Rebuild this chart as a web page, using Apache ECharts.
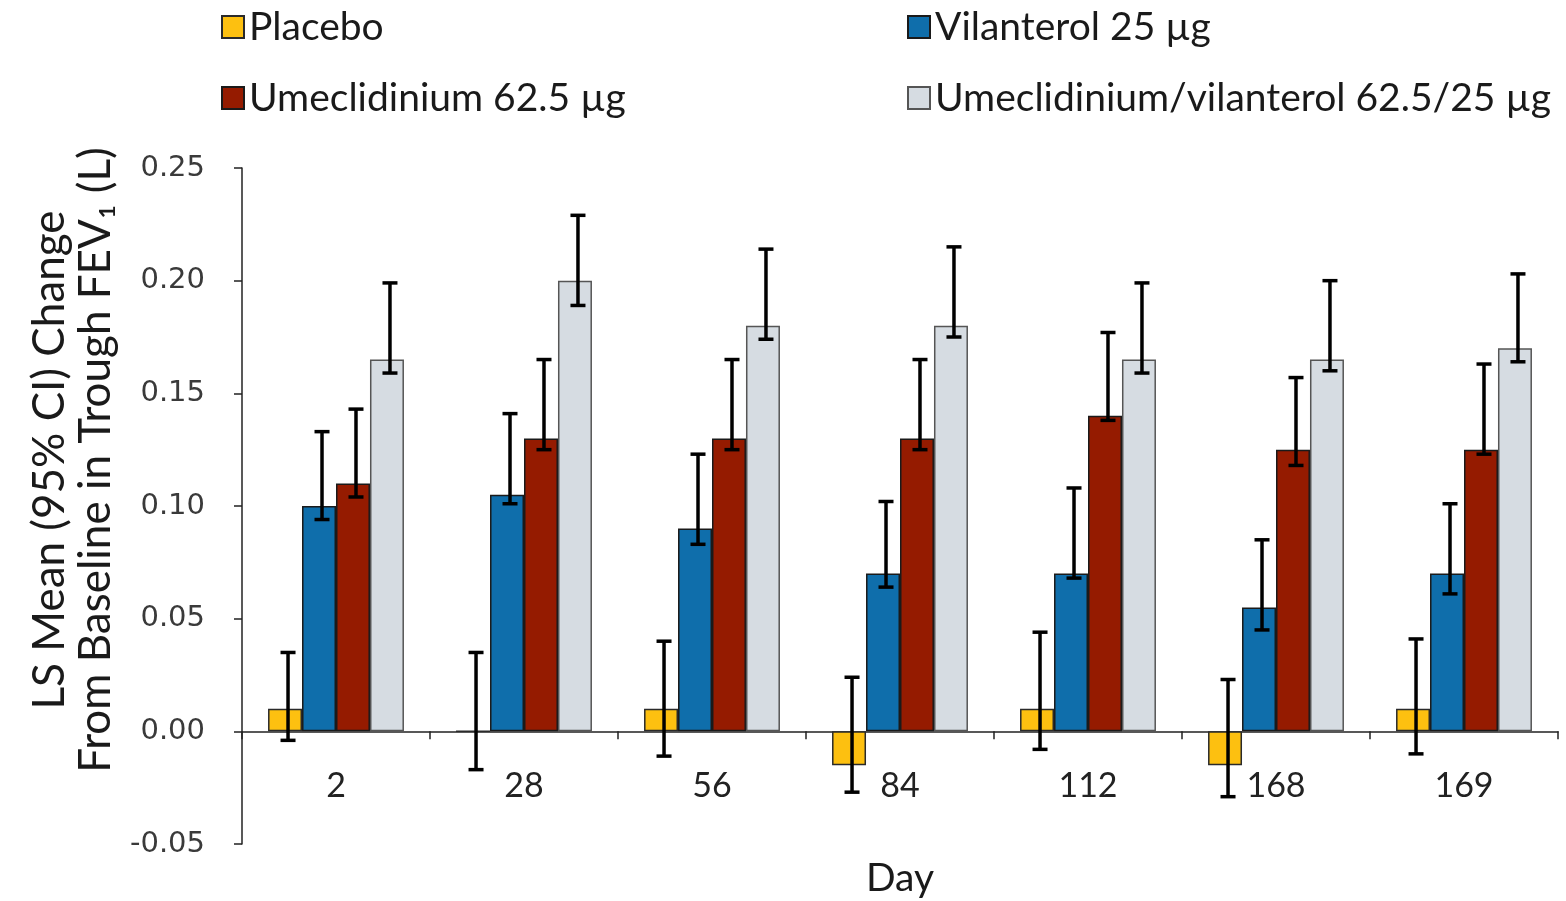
<!DOCTYPE html>
<html>
<head>
<meta charset="utf-8">
<script src="https://cdn.jsdelivr.net/npm/echarts@6/dist/echarts.min.js"></script>
<style>html,body{margin:0;padding:0;background:#fff;}#c{width:1566px;height:901px;}</style>
</head>
<body>
<div id="c"></div>
<script>
const days = ['2', '28', '56', '84', '112', '168', '169'];
const yTicks = [-0.05, 0.00, 0.05, 0.10, 0.15, 0.20, 0.25];

const placebo   = [0.010, 0.000, 0.010, -0.015, 0.010, -0.015, 0.010];
const placeboLo = [-0.004, -0.017, -0.011, -0.027, -0.008, -0.029, -0.010];
const placeboHi = [0.035, 0.035, 0.040, 0.024, 0.044, 0.023, 0.041];

const vil   = [0.100, 0.105, 0.090, 0.070, 0.070, 0.055, 0.070];
const vilLo = [0.094, 0.101, 0.083, 0.064, 0.068, 0.045, 0.061];
const vilHi = [0.133, 0.141, 0.123, 0.102, 0.108, 0.085, 0.101];

const umec   = [0.110, 0.130, 0.130, 0.130, 0.140, 0.125, 0.125];
const umecLo = [0.104, 0.125, 0.125, 0.125, 0.138, 0.118, 0.123];
const umecHi = [0.143, 0.165, 0.165, 0.165, 0.177, 0.157, 0.163];

const combo   = [0.165, 0.200, 0.180, 0.180, 0.165, 0.165, 0.170];
const comboLo = [0.159, 0.189, 0.174, 0.175, 0.159, 0.160, 0.164];
const comboHi = [0.199, 0.229, 0.214, 0.215, 0.199, 0.200, 0.203];

const names = ['Placebo', 'Vilanterol 25 µg', 'Umeclidinium 62.5 µg', 'Umeclidinium/vilanterol 62.5/25 µg'];
const colors = ['#FDC010', '#0F6EAB', '#951B00', '#D6DCE2'];
const borders = ['#2a2a2a', '#1a1a1a', '#1a1a1a', '#555555'];
const means = [placebo, vil, umec, combo];
const los = [placeboLo, vilLo, umecLo, comboLo];
const his = [placeboHi, vilHi, umecHi, comboHi];

const GAP = 0.277;
const FONT = 'Lato';
const Y_MIN = -0.05, Y_MAX = 0.25;
const GRID = { left: 242, right: 8, top: 168, bottom: 57 };
const PLOT_H = 901 - GRID.top - GRID.bottom;
// shift the category axis up so it sits on the zero line (labels follow it)
const zeroOffset = -PLOT_H * (0 - Y_MIN) / (Y_MAX - Y_MIN);

function errSeries(k) {
  return {
    type: 'custom',
    name: names[k] + ' CI',
    z: 10,
    silent: true,
    data: days.map((d, i) => [i, los[k][i], his[k][i]]),
    renderItem: function (params, api) {
      const idx = api.value(0);
      const base = api.coord([idx, 0]);
      const bandW = api.size([1, 0])[0];
      const barW = bandW * (1 - GAP) / 4;
      const cx = base[0] + (k - 1.5) * barW + 3;
      const yLo = api.coord([idx, api.value(1)])[1];
      const yHi = api.coord([idx, api.value(2)])[1];
      const cap = 7.5;
      const st = { stroke: '#000', lineWidth: 3.5 };
      return {
        type: 'group',
        children: [
          { type: 'line', shape: { x1: cx, y1: yLo, x2: cx, y2: yHi }, style: st },
          { type: 'line', shape: { x1: cx - cap, y1: yHi, x2: cx + cap, y2: yHi }, style: st },
          { type: 'line', shape: { x1: cx - cap, y1: yLo, x2: cx + cap, y2: yLo }, style: st }
        ]
      };
    }
  };
}

const barSeries = names.map((n, k) => ({
  type: 'bar',
  name: n,
  data: means[k],
  barGap: 0,
  barCategoryGap: (GAP * 100) + '%',
  itemStyle: { color: colors[k], borderColor: borders[k], borderWidth: 1.5 }
}));

const legendText = { fontFamily: FONT, fontSize: 39, color: '#1a1a1a', lineHeight: 44 };
const chart = echarts.init(document.getElementById('c'), null, { renderer: 'canvas' });
chart.setOption({
  animation: false,
  backgroundColor: '#fff',
  textStyle: { fontFamily: FONT },
  legend: [
    {
      data: [names[0], names[2]],
      orient: 'vertical',
      left: 216, top: 0,
      itemWidth: 22, itemHeight: 22, itemGap: 27, itemTextGap: 9,
      icon: 'rect',
      textStyle: legendText
    },
    {
      data: [names[1], names[3]],
      orient: 'vertical',
      left: 902, top: 0,
      itemWidth: 22, itemHeight: 22, itemGap: 27, itemTextGap: 7,
      icon: 'rect',
      textStyle: legendText
    }
  ],
  grid: Object.assign({ containLabel: false, outerBoundsMode: 'none' }, GRID),
  xAxis: {
    type: 'category',
    data: days,
    position: 'bottom',
    offset: zeroOffset,
    name: 'Day',
    nameLocation: 'middle',
    nameGap: 128,
    nameTextStyle: { fontFamily: FONT, fontSize: 39, color: '#1a1a1a' },
    axisLine: { onZero: false, lineStyle: { color: '#222', width: 1.5 } },
    axisTick: { show: true, length: 8, lineStyle: { color: '#222', width: 1.5 } },
    axisLabel: { margin: 38, fontFamily: FONT, fontSize: 34, color: '#222' }
  },
  yAxis: {
    type: 'value',
    min: Y_MIN, max: Y_MAX, interval: 0.05,
    name: 'LS Mean (95% CI) Change\nFrom Baseline in Trough FEV₁ (L)',
    nameLocation: 'middle',
    nameRotate: 90,
    nameGap: 121,
    nameTextStyle: { fontFamily: FONT, fontSize: 44, color: '#1a1a1a', lineHeight: 46, padding: [0, 0, 0, 92] },
    axisLine: { show: true, lineStyle: { color: '#222', width: 1.5 } },
    axisTick: { show: true, length: 8, lineStyle: { color: '#222', width: 1.5 } },
    splitLine: { show: false },
    axisLabel: {
      margin: 37, fontFamily: 'DejaVu Sans', fontSize: 29, color: '#3a3a3a',
      formatter: v => {
        const t = yTicks.find(x => Math.abs(x - v) < 1e-9);
        return (t !== undefined ? t : v).toFixed(2);
      }
    }
  },
  series: barSeries.concat([0, 1, 2, 3].map(errSeries))
});
</script>
</body>
</html>
